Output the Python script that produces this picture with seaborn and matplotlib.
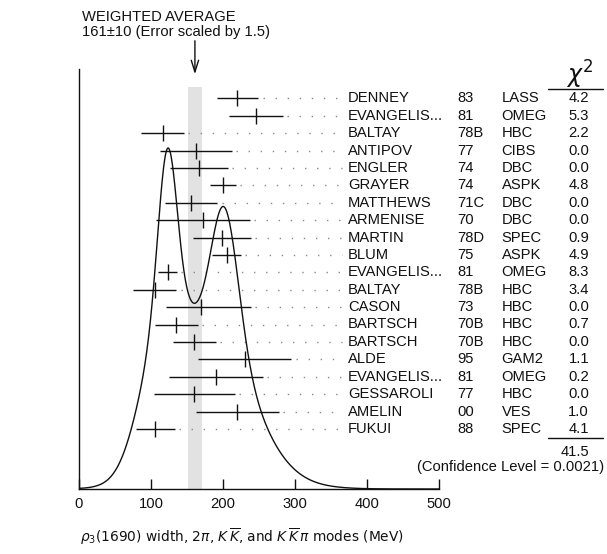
import numpy as np
import matplotlib
matplotlib.use("Agg")
import matplotlib.pyplot as plt
import seaborn as sns

# ---------------- data ----------------
names = ["DENNEY", "EVANGELIS...", "BALTAY", "ANTIPOV", "ENGLER", "GRAYER",
         "MATTHEWS", "ARMENISE", "MARTIN", "BLUM", "EVANGELIS...", "BALTAY",
         "CASON", "BARTSCH", "BARTSCH", "ALDE", "EVANGELIS...", "GESSAROLI",
         "AMELIN", "FUKUI"]
years = ["83", "81", "78B", "77", "74", "74", "71C", "70", "78D", "75", "81",
         "78B", "73", "70B", "70B", "95", "81", "77", "00", "88"]
experiments = ["LASS", "OMEG", "HBC", "CIBS", "DBC", "ASPK", "DBC", "DBC",
               "SPEC", "ASPK", "OMEG", "HBC", "HBC", "HBC", "HBC", "GAM2",
               "OMEG", "HBC", "VES", "SPEC"]
chi2 = ["4.2", "5.3", "2.2", "0.0", "0.0", "4.8", "0.0", "0.0", "0.9", "4.9",
        "8.3", "3.4", "0.0", "0.7", "0.0", "1.1", "0.2", "0.0", "1.0", "4.1"]
values = [220, 246, 116, 162, 167, 200, 156, 172, 199, 205,
          123, 105, 169, 135, 160, 230, 190, 160, 220, 106]
err_lo = [29, 37, 30, 50, 40, 18, 36, 65, 40, 20,
          13, 30, 48, 30, 30, 65, 65, 56, 58, 27]
err_hi = [29, 37, 30, 50, 40, 18, 36, 65, 40, 20,
          13, 30, 70, 30, 30, 65, 65, 56, 58, 27]
avg_value = 161
avg_error = 10
chi2_total = "41.5"
conf_level = "(Confidence Level = 0.0021)"
xticks = [0, 100, 200, 300, 400, 500]

# ---------------- layout ----------------
W, H = 607, 554
sns.set_theme(style="white")
plt.rcParams["font.family"] = ["Liberation Sans", "DejaVu Sans"]
plt.rcParams["mathtext.fontset"] = "dejavusans"

fig = plt.figure(figsize=(W / 100, H / 100), dpi=100)
AX_L, AX_R, AX_B, AX_T = 79, 439, 489, 69.3
ax = fig.add_axes([AX_L / W, (H - AX_B) / H, (AX_R - AX_L) / W, (AX_B - AX_T) / H])
ax.set_xlim(0, 500)
ax.set_ylim(0, AX_B - AX_T)
SX = (AX_R - AX_L) / 500.0


def xd(px):
    return (px - AX_L) / SX


def yd(py):
    return AX_B - py


FS = 10.6
ink = "#111111"

# weighted-average band
band_top = yd(86.7)
ax.fill_between([avg_value - avg_error, avg_value + avg_error], 0, band_top,
                color="#e2e2e2", lw=0, zorder=0)

# ideogram: each measurement a Gaussian with area proportional to 1/sigma
xs = np.linspace(0, 500, 1001)
ideo = np.zeros_like(xs)
for v, lo, hi in zip(values, err_lo, err_hi):
    s = np.where(xs < v, lo, hi)
    sig = 0.5 * (lo + hi)
    ideo += (1.0 / sig) * np.exp(-0.5 * ((xs - v) / s) ** 2) / sig
peak_height = 341
ideo = ideo / ideo.max() * peak_height
sns.lineplot(x=xs, y=ideo, ax=ax, color=ink, lw=1.0, zorder=3)

# measurements
row0, dy = 98.3, 17.4
rows_y = [yd(row0 + i * dy) for i in range(len(values))]
lefts = [v - l for v, l in zip(values, err_lo)]
rights = [v + h for v, h in zip(values, err_hi)]
ax.hlines(rows_y, lefts, rights, color=ink, lw=1.0, zorder=4)
sns.scatterplot(x=values, y=rows_y, ax=ax, marker="|", s=120, color=ink,
                linewidth=1.0, zorder=5, legend=False)
dot_end = xd(342)
for r, y in zip(rights, rows_y):
    ax.plot([r + 6, dot_end], [y, y], color="#8a8a8a", lw=1.0,
            linestyle=(0, (1, 7.7)), zorder=2, clip_on=False)

# table text
for i, y in enumerate(rows_y):
    ax.text(xd(348), y, names[i], fontsize=FS, ha="left", va="center", color=ink)
    ax.text(xd(457), y, years[i], fontsize=FS, ha="left", va="center", color=ink)
    ax.text(xd(501.5), y, experiments[i], fontsize=FS, ha="left", va="center", color=ink)
    ax.text(xd(589), y, chi2[i], fontsize=FS, ha="right", va="center", color=ink)

# chi2 header and totals
ax.text(xd(580), yd(75), r"$\chi^2$", fontsize=17, ha="center", va="center", color=ink)
ax.plot([xd(548), xd(603)], [yd(89.3), yd(89.3)], color=ink, lw=1.0, clip_on=False)
ax.plot([xd(548), xd(603)], [yd(437.5), yd(437.5)], color=ink, lw=1.0, clip_on=False)
ax.text(xd(589), yd(452), chi2_total, fontsize=FS, ha="right", va="center", color=ink)
ax.text(xd(604), yd(467), conf_level, fontsize=FS, ha="right", va="center", color=ink)

# weighted average annotation
fig.text(82 / W, 1 - 17 / H, "WEIGHTED AVERAGE", fontsize=FS, ha="left", va="center", color=ink)
fig.text(82 / W, 1 - 32 / H, f"{avg_value}\u00b1{avg_error} (Error scaled by 1.5)",
         fontsize=FS, ha="left", va="center", color=ink)
ax.annotate("", xy=(avg_value, yd(77)), xytext=(avg_value, yd(38)),
            arrowprops=dict(arrowstyle="->,head_length=0.7,head_width=0.22",
                            color=ink, lw=1.0), annotation_clip=False)

# axes styling
sns.despine(ax=ax, top=True, right=True)
for sp in ("left", "bottom"):
    ax.spines[sp].set_color(ink)
    ax.spines[sp].set_linewidth(1.0)
ax.set_xticks(xticks)
ax.set_xticklabels([str(t) for t in xticks], fontsize=FS, color=ink)
ax.tick_params(axis="x", direction="in", length=7.2, width=1.0, color=ink, pad=6,
               bottom=True)
ax.set_yticks([])

fig.text(80.5 / W, 1 - 537 / H,
         r"$\rho_3(1690)$ width, $2\pi$, $K\,\overline{K}$, and $K\,\overline{K}\,\pi$ modes (MeV)",
         fontsize=9.9, ha="left", va="center", color=ink,
         family=["DejaVu Sans"])

fig.savefig("out.png", dpi=100)
